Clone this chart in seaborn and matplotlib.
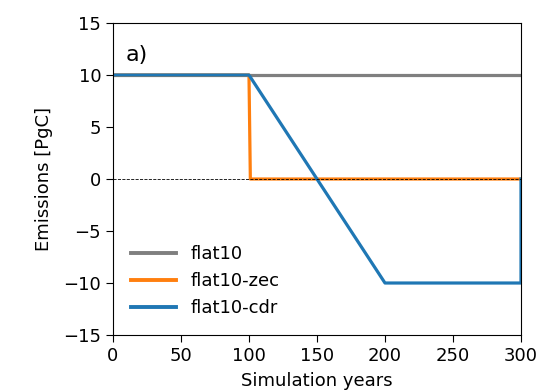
import matplotlib
matplotlib.use("Agg")
import matplotlib.pyplot as plt
import seaborn as sns
import pandas as pd

# Data
flat10_years = [0, 300]
flat10_emis = [10, 10]
zec_years = [0, 100, 101, 300]
zec_emis = [10, 10, 0, 0]
cdr_years = [0, 100, 200, 300, 300]
cdr_emis = [10, 10, -10, -10, 0]
series_names = ["flat10", "flat10-zec", "flat10-cdr"]
colors = ["#7f7f7f", "#ff7f0e", "#1f77b4"]

rows = []
for name, yrs, em in zip(series_names,
                         [flat10_years, zec_years, cdr_years],
                         [flat10_emis, zec_emis, cdr_emis]):
    for i, (x, y) in enumerate(zip(yrs, em)):
        rows.append({"year": x, "emis": y, "exp": name, "order": i})
df = pd.DataFrame(rows)

plt.rcParams["font.family"] = ["DejaVu Sans"]
fig = plt.figure(figsize=(5.39, 3.9), dpi=100)
ax = fig.add_axes([0.2096, 0.141, 0.757, 0.800])

sns.lineplot(data=df, x="year", y="emis", hue="exp", hue_order=series_names,
             palette=colors, sort=False, estimator=None, units="exp",
             linewidth=2.3, ax=ax)
ax.axhline(0, color="black", linestyle="--", linewidth=0.6, zorder=5)

ax.set_xlim(0, 300)
ax.set_ylim(-15, 15)
ax.set_xticks([0, 50, 100, 150, 200, 250, 300])
ax.set_yticks([-15, -10, -5, 0, 5, 10, 15])
ax.tick_params(labelsize=13, length=5)
ax.set_xlabel("Simulation years", fontsize=13, labelpad=5)
ax.set_ylabel("Emissions [PgC]", fontsize=13, labelpad=7)
ax.text(0.03, 0.93, "a)", transform=ax.transAxes, fontsize=16, va="top", ha="left")

leg = ax.legend(loc="lower left", frameon=False, fontsize=13, handlelength=2.5,
                borderaxespad=0.6)
for line in leg.get_lines():
    line.set_linewidth(2.8)

fig.savefig("out.png", dpi=100)
